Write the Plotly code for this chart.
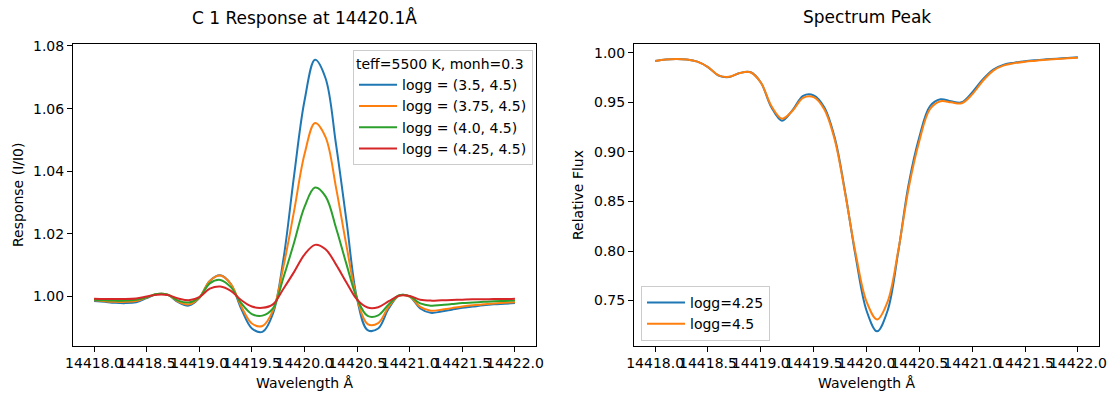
import plotly.graph_objects as go

# ---------------- data ----------------
wavelength = [round(14418.0 + 0.1 * i, 1) for i in range(41)]

resp_35 = [0.9986, 0.9983, 0.9980, 0.9979, 0.9982, 0.9995, 1.0008, 1.0006, 0.9982, 0.9971,
           0.9995, 1.0050, 1.0068, 1.0040, 0.9960, 0.9898, 0.9887, 0.9945, 1.0120, 1.0384,
           1.0625, 1.0756, 1.0697, 1.0485, 1.0239, 0.9992, 0.9893, 0.9898, 0.9962, 1.0003,
           1.0000, 0.9962, 0.9948, 0.9952, 0.9958, 0.9964, 0.9968, 0.9972, 0.9975, 0.9977,
           0.9979]
resp_375 = [0.9988, 0.9985, 0.9983, 0.9983, 0.9986, 0.9997, 1.0008, 1.0006, 0.9984, 0.9975,
            0.9996, 1.0050, 1.0067, 1.0040, 0.9968, 0.9914, 0.9906, 0.9955, 1.0096, 1.0271,
            1.0454, 1.0554, 1.0509, 1.0347, 1.0160, 0.9992, 0.9912, 0.9915, 0.9968, 1.0003,
            1.0000, 0.9967, 0.9955, 0.9958, 0.9963, 0.9968, 0.9972, 0.9975, 0.9978, 0.9980,
            0.9982]
resp_40 = [0.9990, 0.9988, 0.9987, 0.9987, 0.9990, 0.9998, 1.0008, 1.0006, 0.9987, 0.9981,
           0.9997, 1.0042, 1.0053, 1.0030, 0.9978, 0.9944, 0.9939, 0.9962, 1.0061, 1.0171,
           1.0286, 1.0348, 1.0320, 1.0219, 1.0102, 0.9993, 0.9938, 0.9940, 0.9975, 1.0004,
           1.0001, 0.9978, 0.9971, 0.9973, 0.9976, 0.9979, 0.9981, 0.9983, 0.9985, 0.9986,
           0.9987]
resp_425 = [0.9993, 0.9992, 0.9992, 0.9992, 0.9994, 1.0000, 1.0006, 1.0005, 0.9994, 0.9988,
            0.9998, 1.0025, 1.0032, 1.0018, 0.9988, 0.9968, 0.9964, 0.9975, 1.0025, 1.0078,
            1.0134, 1.0165, 1.0151, 1.0102, 1.0044, 0.9990, 0.9965, 0.9966, 0.9985, 1.0003,
            1.0002, 0.9990, 0.9987, 0.9988, 0.9989, 0.9990, 0.9991, 0.9991, 0.9992, 0.9992,
            0.9993]

flux_425 = [0.9916, 0.9932, 0.9936, 0.9932, 0.9910, 0.9855, 0.9770, 0.9755, 0.9795, 0.9805,
            0.9700, 0.9450, 0.9315, 0.9420, 0.9565, 0.9570, 0.9450, 0.9140, 0.8580, 0.7930,
            0.7400, 0.7190, 0.7400, 0.7990, 0.8680, 0.9150, 0.9460, 0.9530, 0.9510, 0.9500,
            0.9600, 0.9730, 0.9830, 0.9880, 0.9900, 0.9915, 0.9925, 0.9933, 0.9940, 0.9947,
            0.9954]
flux_45 = [0.9916, 0.9932, 0.9936, 0.9932, 0.9910, 0.9855, 0.9772, 0.9757, 0.9795, 0.9803,
           0.9700, 0.9462, 0.9335, 0.9415, 0.9545, 0.9552, 0.9430, 0.9120, 0.8570, 0.7960,
           0.7490, 0.7310, 0.7490, 0.8000, 0.8640, 0.9110, 0.9430, 0.9510, 0.9500, 0.9490,
           0.9580, 0.9715, 0.9820, 0.9872, 0.9895, 0.9910, 0.9920, 0.9930, 0.9937, 0.9944,
           0.9950]

resp_names = ["logg = (3.5, 4.5)", "logg = (3.75, 4.5)", "logg = (4.0, 4.5)", "logg = (4.25, 4.5)"]
flux_names = ["logg=4.25", "logg=4.5"]

x_tickvals = [14418.0, 14418.5, 14419.0, 14419.5, 14420.0, 14420.5, 14421.0, 14421.5, 14422.0]
x_ticktext = ["14418.0", "14418.5", "14419.0", "14419.5", "14420.0", "14420.5", "14421.0", "14421.5", "14422.0"]
y1_tickvals = [1.00, 1.02, 1.04, 1.06, 1.08]
y2_tickvals = [0.75, 0.80, 0.85, 0.90, 0.95, 1.00]

# ---------------- figure ----------------
W, H = 1108, 398
colors = ["#1f77b4", "#ff7f0e", "#2ca02c", "#d62728"]
FONT = "DejaVu Sans"

fig = go.Figure()
for ys, name, c in zip([resp_35, resp_375, resp_40, resp_425], resp_names, colors):
    fig.add_trace(go.Scatter(x=wavelength, y=ys, mode="lines", name=name,
                             line=dict(color=c, width=2, shape="spline", smoothing=1.0),
                             xaxis="x", yaxis="y", legend="legend"))
for ys, name, c in zip([flux_425, flux_45], flux_names, colors[:2]):
    fig.add_trace(go.Scatter(x=wavelength, y=ys, mode="lines", name=name,
                             line=dict(color=c, width=2, shape="spline", smoothing=1.0),
                             xaxis="x2", yaxis="y2", legend="legend2"))

def px_x(p):
    return p / W

def px_y(p):
    return 1 - p / H

axis_common = dict(showgrid=False, zeroline=False, showline=True, mirror=True,
                   linecolor="black", linewidth=1, ticks="outside", ticklen=5,
                   tickwidth=1, tickcolor="black", automargin=False,
                   tickfont=dict(family=FONT, size=14, color="black"))

fig.update_layout(
    width=W, height=H,
    margin=dict(l=0, r=0, t=0, b=0, pad=0, autoexpand=False),
    paper_bgcolor="white", plot_bgcolor="white",
    font=dict(family=FONT, size=14, color="black"),
    xaxis=dict(domain=[px_x(73), px_x(536)], range=[14417.8, 14422.2],
               tickvals=x_tickvals, ticktext=x_ticktext, tickangle=0, anchor="y", **axis_common),
    yaxis=dict(domain=[px_y(345.5), px_y(44)], range=[0.98437, 1.08063],
               tickvals=y1_tickvals, tickformat=".2f", anchor="x", **axis_common),
    xaxis2=dict(domain=[px_x(634), px_x(1099)], range=[14417.8, 14422.2],
                tickvals=x_tickvals, ticktext=x_ticktext, tickangle=0, anchor="y2", **axis_common),
    yaxis2=dict(domain=[px_y(345.5), px_y(44)], range=[0.7047, 1.0088],
                tickvals=y2_tickvals, tickformat=".2f", anchor="x2", **axis_common),
    showlegend=True,
    legend=dict(x=px_x(533), y=px_y(50), xanchor="right", yanchor="top",
                bgcolor="rgba(255,255,255,0.8)", bordercolor="#cccccc", borderwidth=1,
                itemwidth=38,
                font=dict(family=FONT, size=14, color="black"),
                title=dict(text="teff=5500 K, monh=0.3", font=dict(family=FONT, size=14, color="black")),
                tracegroupgap=0),
    legend2=dict(x=px_x(641), y=px_y(341), xanchor="left", yanchor="bottom",
                 bgcolor="rgba(255,255,255,0.8)", bordercolor="#cccccc", borderwidth=1,
                 itemwidth=38,
                 font=dict(family=FONT, size=14, color="black")),
    annotations=[
        dict(text="C 1 Response at 14420.1Å", x=px_x(304.5), y=px_y(17), xref="paper", yref="paper",
             showarrow=False, font=dict(family=FONT, size=17, color="black"), xanchor="center", yanchor="middle"),
        dict(text="Spectrum Peak", x=px_x(866.5), y=px_y(17), xref="paper", yref="paper",
             showarrow=False, font=dict(family=FONT, size=17, color="black"), xanchor="center", yanchor="middle"),
        dict(text="Wavelength Å", x=px_x(304.5), y=px_y(383), xref="paper", yref="paper",
             showarrow=False, font=dict(family=FONT, size=14, color="black"), xanchor="center", yanchor="middle"),
        dict(text="Wavelength Å", x=px_x(866.5), y=px_y(383), xref="paper", yref="paper",
             showarrow=False, font=dict(family=FONT, size=14, color="black"), xanchor="center", yanchor="middle"),
        dict(text="Response (I/I0)", x=px_x(18), y=px_y(195), xref="paper", yref="paper", textangle=-90,
             showarrow=False, font=dict(family=FONT, size=14, color="black"), xanchor="center", yanchor="middle"),
        dict(text="Relative Flux", x=px_x(578), y=px_y(195), xref="paper", yref="paper", textangle=-90,
             showarrow=False, font=dict(family=FONT, size=14, color="black"), xanchor="center", yanchor="middle"),
    ],
)

fig.write_html("out.html", config={"displayModeBar": False},
               post_script="document.body.style.margin='0';document.body.style.overflow='hidden';")
